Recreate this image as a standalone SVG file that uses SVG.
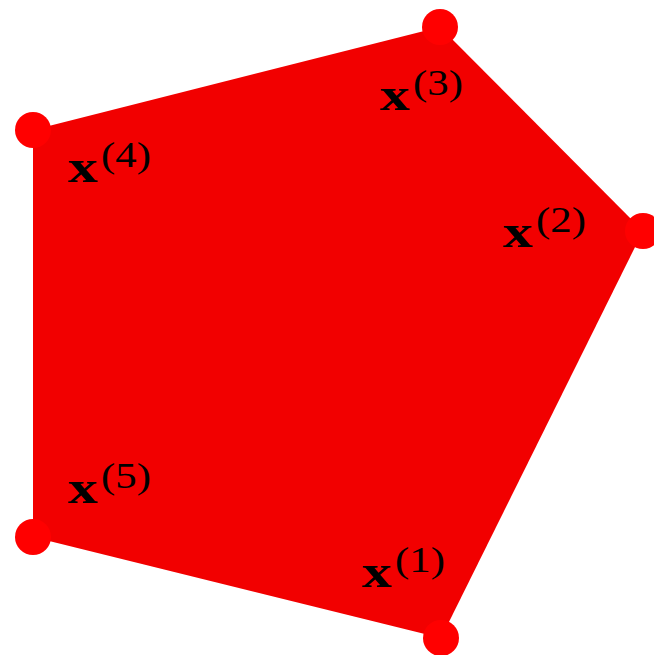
<svg xmlns="http://www.w3.org/2000/svg" width="654" height="655" viewBox="0 0 654 655">
<style>
.poly{fill:#f20000;stroke:none}
.dot{fill:#ff0000}
.x{font-family:"Liberation Serif",serif;font-weight:bold;font-size:46px;fill:#000}
.s{font-family:"Liberation Serif",serif;font-size:36px;fill:#000}
</style>
<rect width="654" height="655" fill="#fff"/>
<g id="region">
<polygon class="poly" points="441,638 643,231 440,27 33,130 33,537"/>
</g>
<g id="connectors"></g>
<g id="v1"><circle class="dot" cx="441" cy="638" r="18"/>
<text class="x" x="362" y="587" textLength="30" lengthAdjust="spacingAndGlyphs">x</text><text class="s" x="395" y="572" textLength="50" lengthAdjust="spacingAndGlyphs">(1)</text></g>
<g id="v2"><circle class="dot" cx="643" cy="231" r="18"/>
<text class="x" x="503" y="247" textLength="30" lengthAdjust="spacingAndGlyphs">x</text><text class="s" x="536" y="232" textLength="50" lengthAdjust="spacingAndGlyphs">(2)</text></g>
<g id="v3"><circle class="dot" cx="440" cy="27" r="18"/>
<text class="x" x="380" y="110" textLength="30" lengthAdjust="spacingAndGlyphs">x</text><text class="s" x="413" y="95" textLength="50" lengthAdjust="spacingAndGlyphs">(3)</text></g>
<g id="v4"><circle class="dot" cx="33" cy="130" r="18"/>
<text class="x" x="68" y="182" textLength="30" lengthAdjust="spacingAndGlyphs">x</text><text class="s" x="101" y="167" textLength="50" lengthAdjust="spacingAndGlyphs">(4)</text></g>
<g id="v5"><circle class="dot" cx="33" cy="537" r="18"/>
<text class="x" x="68" y="503" textLength="30" lengthAdjust="spacingAndGlyphs">x</text><text class="s" x="101" y="488" textLength="50" lengthAdjust="spacingAndGlyphs">(5)</text></g>
</svg>
